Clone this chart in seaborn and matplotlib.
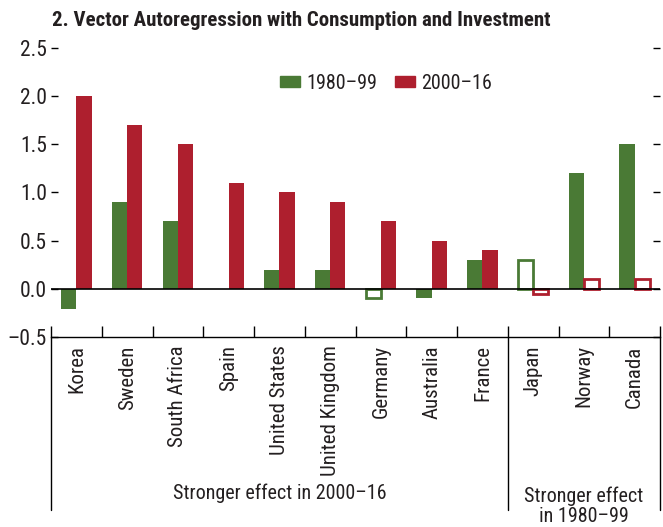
import numpy as np
import pandas as pd
import matplotlib
matplotlib.use("Agg")
import matplotlib.pyplot as plt
import matplotlib.patches as mpatches
from matplotlib.ticker import FixedLocator, FuncFormatter
import seaborn as sns

countries = ["Korea", "Sweden", "South Africa", "Spain", "United States",
             "United Kingdom", "Germany", "Australia", "France",
             "Japan", "Norway", "Canada"]
early = [-0.21, 0.9, 0.7, 0.0, 0.2, 0.2, -0.1, -0.1, 0.3, 0.3, 1.2, 1.5]
late = [2.0, 1.7, 1.5, 1.1, 1.0, 0.9, 0.7, 0.5, 0.4, -0.05, 0.1, 0.1]
periods = ["1980–99", "2000–16"]
# hollow bars (not significant)
early_hollow = ["Germany", "Japan"]
late_hollow = ["Japan", "Norway", "Canada"]

green = "#4a7a35"
red = "#ae1f2e"
txt = "#231f20"

df = pd.DataFrame({
    "country": countries * 2,
    "value": early + late,
    "period": [periods[0]] * len(countries) + [periods[1]] * len(countries),
})

sns.set_style("white")
plt.rcParams["font.family"] = ["Roboto Condensed", "DejaVu Sans"]
plt.rcParams["text.color"] = txt

fig = plt.figure(figsize=(6.63, 5.27), dpi=100)
ax = fig.add_axes([0.077, 0.3605, 0.9185, 0.5485])

sns.barplot(data=df, x="country", y="value", hue="period", order=countries,
            hue_order=periods, palette=[green, red], width=0.6, saturation=1,
            errorbar=None, legend=False, ax=ax)

for cont, col, hollow in [(ax.containers[0], green, early_hollow),
                          (ax.containers[1], red, late_hollow)]:
    for name, bar in zip(countries, cont):
        if name in hollow:
            bar.set_facecolor("white")
            bar.set_edgecolor(col)
            bar.set_linewidth(2)
        else:
            bar.set_linewidth(0)

ax.axhline(0, color="black", lw=1.2, zorder=5)

ax.set_xlim(-0.5, 11.5)
ax.set_ylim(-0.5, 2.5)
ax.set_xlabel("")
ax.set_ylabel("")

ax.set_yticks(np.arange(-0.5, 2.51, 0.5))
ax.yaxis.set_major_formatter(FuncFormatter(
    lambda v, p: ("\u2013%.1f" % abs(v)) if v < -1e-9 else "%.1f" % abs(v)))
ax.tick_params(axis="y", direction="in", length=5, width=1, color="black",
               left=True, right=True, labelright=False, labelsize=15.5,
               labelcolor=txt, pad=3)

ax.set_xticks(range(len(countries)))
ax.set_xticklabels(countries, rotation=90, va="top", ha="center")
ax.tick_params(axis="x", which="major", length=0, pad=6, labelsize=15,
               labelcolor=txt)
ax.xaxis.set_minor_locator(FixedLocator(np.arange(-0.5, 12, 1)))
ax.tick_params(axis="x", which="minor", direction="in", length=8, width=1,
               color="black", bottom=True)

for s in ["top", "left", "right"]:
    ax.spines[s].set_visible(False)
ax.spines["bottom"].set_color("black")
ax.spines["bottom"].set_linewidth(1)

trans = ax.get_xaxis_transform()
for xv in [-0.5, 8.5, 11.5]:
    ax.plot([xv, xv], [0, -0.6], transform=trans, color="black", lw=1,
            clip_on=False)

ax.text(4, -0.54, "Stronger effect in 2000–16", transform=trans,
        ha="center", va="center", fontsize=14.5)
ax.text(10, -0.585, "Stronger effect\nin 1980–99", transform=trans,
        ha="center", va="center", fontsize=14.5, linespacing=1.1)

handles = [mpatches.Patch(color=green, label=periods[0]),
           mpatches.Patch(color=red, label=periods[1])]
fig.legend(handles=handles, loc="center", bbox_to_anchor=(0.582, 0.842),
           ncol=2, frameon=False, fontsize=14.5, handlelength=1.0,
           handleheight=0.5, handletextpad=0.3, columnspacing=0.9)

fig.text(0.078, 0.962, "2. Vector Autoregression with Consumption and Investment",
         fontsize=15, fontweight="bold", ha="left", va="center")

fig.savefig("out.png", dpi=100)
